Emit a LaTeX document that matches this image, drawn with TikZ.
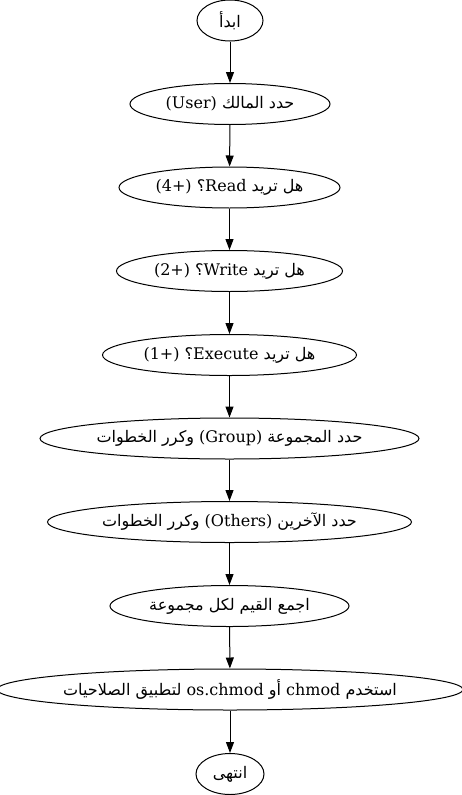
\documentclass[tikz,border=0pt]{standalone}
\usepackage{fontspec}
\setmainfont{DejaVu Serif}
\newfontfamily\ar[Script=Arabic]{DejaVu Sans}
\TeXXeTstate=1
\usetikzlibrary{shapes.geometric,arrows.meta}
\newcommand{\AR}[1]{{\ar\beginR #1\endR}}
\begin{document}
\begin{tikzpicture}[x=1pt,y=1pt,
  box/.style={draw, ellipse, line width=1pt, inner sep=0pt, minimum height=41pt, font=\fontsize{16}{18}\selectfont},
  arr/.style={line width=1pt, -{Triangle[length=11pt,width=8pt]}}]
\useasboundingbox (0,0) rectangle (462,-795);
\node[box, minimum width=66pt]  (s) at (230,-20.5)  {\makebox[0pt]{\AR{ابدأ}}};
\node[box, minimum width=200pt] (u) at (230,-104)   {\makebox[0pt]{(User) \AR{حدد المالك}}};
\node[box, minimum width=221pt] (r) at (229.5,-187.5) {\makebox[0pt]{(4+) \AR{؟}Read \AR{هل تريد}}};
\node[box, minimum width=226pt] (w) at (229.5,-271)   {\makebox[0pt]{(2+) \AR{؟}Write \AR{هل تريد}}};
\node[box, minimum width=254pt] (e) at (229.5,-355)   {\makebox[0pt]{(1+) \AR{؟}Execute \AR{هل تريد}}};
\node[box, minimum width=379pt] (g) at (229.5,-438.5) {\makebox[0pt]{\AR{وكرر الخطوات} (Group) \AR{حدد المجموعة}}};
\node[box, minimum width=364pt] (o) at (229.5,-522)   {\makebox[0pt]{\AR{وكرر الخطوات} (Others) \AR{حدد الآخرين}}};
\node[box, minimum width=239pt] (m) at (229.5,-606)   {\makebox[0pt]{\AR{اجمع القيم لكل مجموعة}}};
\node[box, minimum width=466pt] (c) at (230,-689.5)   {\makebox[0pt]{\AR{لتطبيق الصلاحيات} os.chmod \AR{أو} chmod \AR{استخدم}}};
\node[box, minimum width=68pt]  (f) at (230,-774)   {\makebox[0pt]{\AR{انتهى}}};
\draw[arr] (s) -- (u);
\draw[arr] (u) -- (r);
\draw[arr] (r) -- (w);
\draw[arr] (w) -- (e);
\draw[arr] (e) -- (g);
\draw[arr] (g) -- (o);
\draw[arr] (o) -- (m);
\draw[arr] (m) -- (c);
\draw[arr] (c) -- (f);
\end{tikzpicture}
\end{document}
